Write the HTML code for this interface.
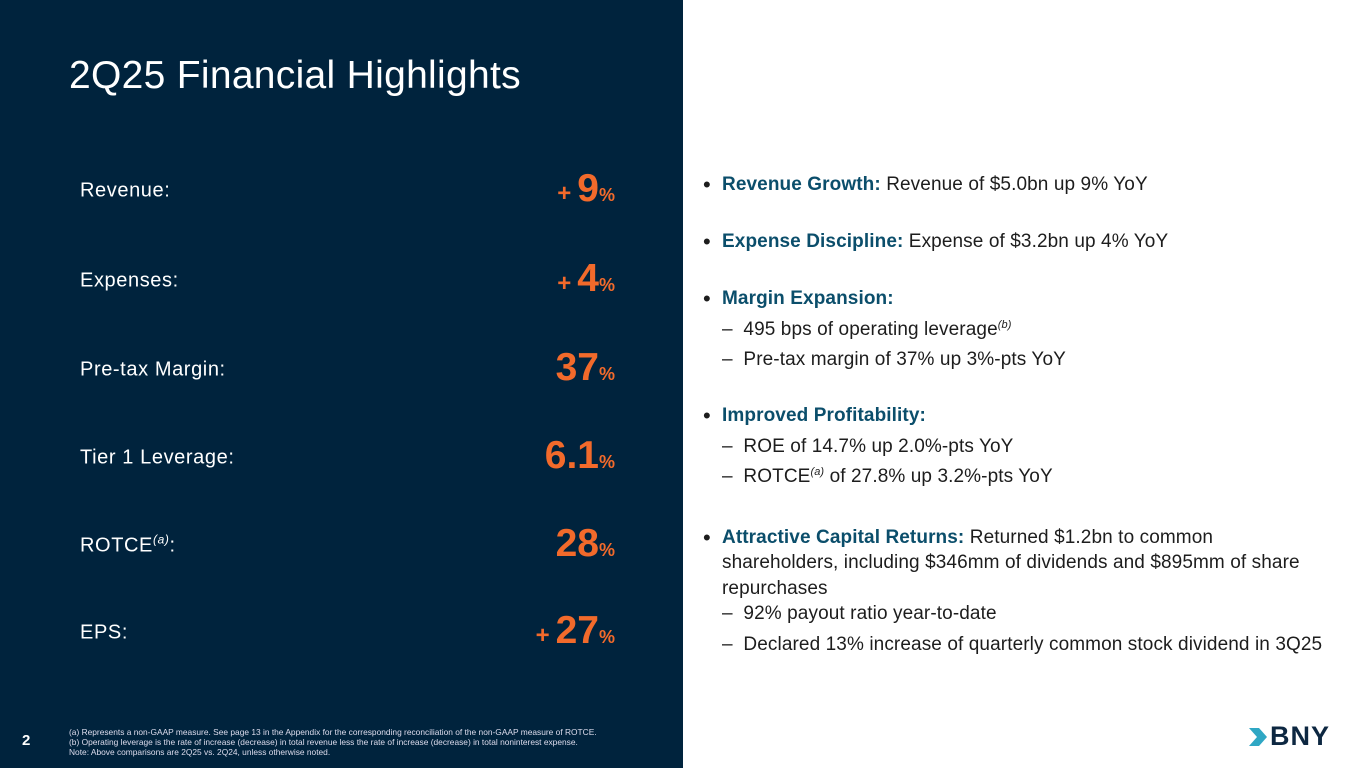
<!DOCTYPE html>
<html><head><meta charset="utf-8"><style>
body{margin:0;width:1365px;height:768px;overflow:hidden;background:#fff;font-family:"Liberation Sans",sans-serif}
#left{position:absolute;left:0;top:0;width:683px;height:768px;background:#00233d}
.title{position:absolute;left:69px;top:54px;font-size:39px;color:#fff;font-weight:300;letter-spacing:0.3px}
.lab{position:absolute;left:80px;font-size:20px;letter-spacing:0.6px;color:#fff;transform:translateY(-50%)}
.val{position:absolute;right:68px;color:#f26a2b;font-weight:bold;transform:translateY(-50%);white-space:nowrap}
.val .n{font-size:39px}.val .p{font-size:18px}.val .pl{font-size:24px;margin-right:6px}
.line{position:absolute;left:722px;font-size:19px;letter-spacing:0.1px;color:#1d1d1d;white-space:nowrap;transform:translateY(-50%)}
.b{position:absolute;left:-19px;font-size:22px;top:-2px}
.h{color:#0b4e6b;font-weight:bold}
.foot{position:absolute;left:69px;top:727px;font-size:8.4px;color:#dde;line-height:10px}
.pg{position:absolute;left:22px;top:732px;font-size:15px;font-weight:bold;color:#fff}
</style></head><body>
<div id="left">
<div class="title">2Q25 Financial Highlights</div>
<div class="lab" style="top:191px">Revenue:</div>
<div class="val" style="top:189px"><span class="pl">+</span><span class="n">9</span><span class="p">%</span></div>
<div class="lab" style="top:281px">Expenses:</div>
<div class="val" style="top:279px"><span class="pl">+</span><span class="n">4</span><span class="p">%</span></div>
<div class="lab" style="top:370px">Pre-tax Margin:</div>
<div class="val" style="top:368px"><span class="n">37</span><span class="p">%</span></div>
<div class="lab" style="top:458px">Tier 1 Leverage:</div>
<div class="val" style="top:456px"><span class="n">6.1</span><span class="p">%</span></div>
<div class="lab" style="top:545px">ROTCE<sup style="font-size:12px;font-style:italic">(a)</sup>:</div>
<div class="val" style="top:544px"><span class="n">28</span><span class="p">%</span></div>
<div class="lab" style="top:633px">EPS:</div>
<div class="val" style="top:631px"><span class="pl">+</span><span class="n">27</span><span class="p">%</span></div>
<div class="pg">2</div>
<div class="foot">(a) Represents a non-GAAP measure. See page 13 in the Appendix for the corresponding reconciliation of the non-GAAP measure of ROTCE.<br>(b) Operating leverage is the rate of increase (decrease) in total revenue less the rate of increase (decrease) in total noninterest expense.<br>Note: Above comparisons are 2Q25 vs. 2Q24, unless otherwise noted.</div>
</div>
<div>
<div class="line" style="top:185px"><span class="b">•</span><span class="h">Revenue Growth:</span> Revenue of $5.0bn up 9% YoY</div>
<div class="line" style="top:242px"><span class="b">•</span><span class="h">Expense Discipline:</span> Expense of $3.2bn up 4% YoY</div>
<div class="line" style="top:299px"><span class="b">•</span><span class="h">Margin Expansion:</span></div>
<div class="line" style="top:330px">–&nbsp; 495 bps of operating leverage<sup style="font-size:11px;font-style:italic">(b)</sup></div>
<div class="line" style="top:360px">–&nbsp; Pre-tax margin of 37% up 3%-pts YoY</div>
<div class="line" style="top:416px"><span class="b">•</span><span class="h">Improved Profitability:</span></div>
<div class="line" style="top:447px">–&nbsp; ROE of 14.7% up 2.0%-pts YoY</div>
<div class="line" style="top:477px">–&nbsp; ROTCE<sup style="font-size:11px;font-style:italic">(a)</sup> of 27.8% up 3.2%-pts YoY</div>
<div class="line" style="top:538px"><span class="b">•</span><span class="h">Attractive Capital Returns:</span> Returned $1.2bn to common</div>
<div class="line" style="top:563px">shareholders, including $346mm of dividends and $895mm of share</div>
<div class="line" style="top:589px">repurchases</div>
<div class="line" style="top:614px">–&nbsp; 92% payout ratio year-to-date</div>
<div class="line" style="top:645px">–&nbsp; Declared 13% increase of quarterly common stock dividend in 3Q25</div>
</div>
<div style="position:absolute;left:1270px;top:727px;height:20px">
<svg width="22" height="18" style="position:absolute;left:-21px;top:1px"><polygon points="0,0 10,0 18,9 10,18 0,18 8,9" fill="#2fa7c4"/></svg>
<span style="position:absolute;left:0px;top:-6px;font-size:27px;font-weight:900;color:#0d2741;letter-spacing:1px">BNY</span>
</div>
</body></html>
